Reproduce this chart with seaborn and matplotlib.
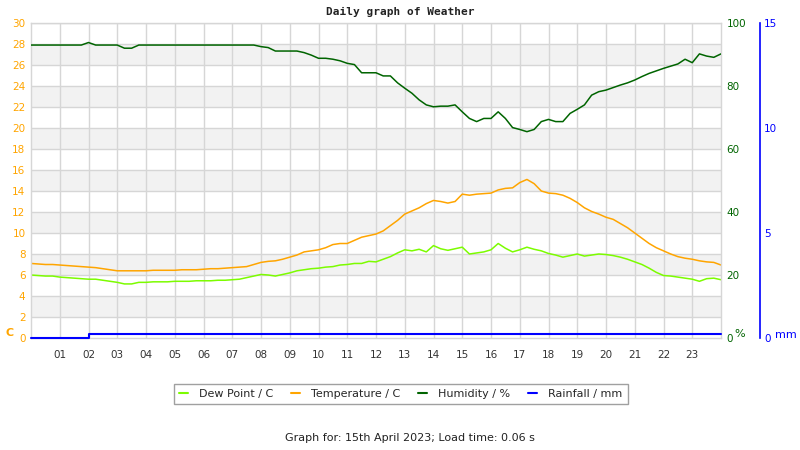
import numpy as np
import pandas as pd
import matplotlib
matplotlib.use('Agg')
import matplotlib.pyplot as plt
import seaborn as sns
from matplotlib.lines import Line2D

# readings every 15 minutes, 00:00 -> 24:00
hours = np.arange(0, 24.01, 0.25)

temperature = [7.1, 7.05, 7.0, 7.0, 6.95, 6.9, 6.85, 6.8, 6.75, 6.7, 6.6, 6.5,
               6.4, 6.4, 6.4, 6.4, 6.4, 6.45, 6.45, 6.45, 6.45, 6.5, 6.5, 6.5,
               6.55, 6.6, 6.6, 6.65, 6.7, 6.75, 6.8, 7.0, 7.2, 7.3, 7.35, 7.5,
               7.7, 7.9, 8.2, 8.3, 8.4, 8.6, 8.9, 9.0, 9.0, 9.3, 9.6, 9.75,
               9.9, 10.2, 10.7, 11.2, 11.8, 12.1, 12.4, 12.8, 13.1, 13.0, 12.85, 13.0,
               13.7, 13.6, 13.7, 13.75, 13.8, 14.1, 14.25, 14.3, 14.8, 15.1, 14.7, 14.0,
               13.8, 13.75, 13.6, 13.3, 12.9, 12.4, 12.05, 11.8, 11.5, 11.3, 10.9, 10.5,
               10.0, 9.5, 9.0, 8.6, 8.3, 8.0, 7.75, 7.6, 7.5, 7.35, 7.25, 7.2, 6.95]

dew_point = [6.0, 5.95, 5.9, 5.9, 5.8, 5.75, 5.7, 5.65, 5.6, 5.6, 5.5, 5.4,
             5.3, 5.15, 5.15, 5.3, 5.3, 5.35, 5.35, 5.35, 5.4, 5.4, 5.4, 5.45,
             5.45, 5.45, 5.5, 5.5, 5.55, 5.6, 5.75, 5.9, 6.05, 6.0, 5.9, 6.05,
             6.2, 6.4, 6.5, 6.6, 6.65, 6.75, 6.8, 6.95, 7.0, 7.1, 7.1, 7.3,
             7.25, 7.5, 7.75, 8.1, 8.4, 8.3, 8.45, 8.2, 8.8, 8.5, 8.35, 8.5,
             8.65, 8.0, 8.1, 8.2, 8.4, 9.0, 8.55, 8.2, 8.4, 8.65, 8.45, 8.3,
             8.05, 7.9, 7.7, 7.85, 8.0, 7.8, 7.9, 8.0, 7.95, 7.85, 7.7, 7.5,
             7.25, 7.0, 6.65, 6.25, 5.95, 5.9, 5.8, 5.7, 5.6, 5.4, 5.65, 5.7, 5.55]

humidity = [93.0, 93.0, 93.0, 93.0, 93.0, 93.0, 93.0, 93.0,
            93.8, 93.0, 93.0, 93.0, 93.0, 92.0, 92.0, 93.0,
            93.0, 93.0, 93.0, 93.0, 93.0, 93.0, 93.0, 93.0,
            93.0, 93.0, 93.0, 93.0, 93.0, 93.0, 93.0, 93.0,
            92.5, 92.2, 91.1, 91.1, 91.1, 91.1, 90.6, 89.8,
            88.8, 88.8, 88.5, 88.0, 87.2, 86.8, 84.2, 84.2,
            84.2, 83.2, 83.2, 81.0, 79.3, 77.7, 75.6, 74.0,
            73.4, 73.6, 73.6, 74.0, 71.8, 69.7, 68.7, 69.7,
            69.7, 71.8, 69.7, 66.8, 66.2, 65.5, 66.2, 68.7,
            69.4, 68.7, 68.7, 71.3, 72.6, 74.0, 77.1, 78.2,
            78.7, 79.5, 80.3, 81.0, 81.9, 83.0, 84.0, 84.8,
            85.6, 86.3, 87.0, 88.5, 87.4, 90.2, 89.5, 89.1, 90.2]

rain_hours = [0, 2, 24]
rainfall = [0.0, 0.2, 0.2]

hour_labels = ['%02d' % h for h in range(1, 24)]

df = pd.DataFrame({'hour': hours, 'temp': temperature, 'dew': dew_point, 'hum': humidity})
rain_df = pd.DataFrame({'hour': rain_hours, 'rain': rainfall})

c_dew, c_temp, c_hum, c_rain = '#7cfc00', '#ffa500', '#006400', '#0000ff'
grid_c = '#d6d6d6'

sns.set_style('white')
plt.rcParams['font.family'] = ['DejaVu Sans']

fig = plt.figure(figsize=(8, 4.5), dpi=100)
ax = fig.add_axes([31 / 800, 1 - 338 / 450, 690 / 800, 315 / 450])

for y0 in range(2, 30, 4):
    ax.axhspan(y0, y0 + 2, color='#f2f2f2', lw=0, zorder=0)
for y in range(2, 31, 2):
    ax.axhline(y, color=grid_c, lw=1, zorder=0.5)
for h in range(1, 24):
    ax.axvline(h, color=grid_c, lw=1, zorder=0.5)

sns.lineplot(data=df, x='hour', y='dew', ax=ax, color=c_dew, lw=1.1,
             estimator=None, sort=False)
sns.lineplot(data=df, x='hour', y='temp', ax=ax, color=c_temp, lw=1.1,
             estimator=None, sort=False)
ax.set_xlim(0, 24)
ax.set_ylim(0, 30)
ax.set_yticks(range(0, 31, 2))
ax.set_xticks(range(1, 24))
ax.set_xticklabels(hour_labels)
ax.tick_params(axis='y', length=0, pad=4, labelsize=7.5, labelcolor=c_temp)
ax.tick_params(axis='x', length=0, pad=9, labelsize=7.5, labelcolor='#333333')
ax.set_xlabel('')
ax.set_ylabel('')
for s in ax.spines.values():
    s.set_color(grid_c)
    s.set_linewidth(1)

ax_h = ax.twinx()
sns.lineplot(data=df, x='hour', y='hum', ax=ax_h, color=c_hum, lw=1.1,
             estimator=None, sort=False)
ax_h.set_ylim(0, 100)
ax_h.set_yticks(range(0, 101, 20))
ax_h.tick_params(axis='y', length=0, pad=4, labelsize=7.5, labelcolor=c_hum)
ax_h.set_ylabel('')
for s in ax_h.spines.values():
    s.set_visible(False)

ax_r = ax.twinx()
sns.lineplot(data=rain_df, x='hour', y='rain', ax=ax_r, color=c_rain, lw=1.5,
             drawstyle='steps-post', estimator=None, sort=False, clip_on=False)
ax_r.set_ylim(0, 15)
ax_r.set_yticks([0, 5, 10, 15])
ax_r.spines['right'].set_position(('axes', (760 - 31) / 690))
for k, s in ax_r.spines.items():
    s.set_visible(k == 'right')
ax_r.spines['right'].set_color(c_rain)
ax_r.spines['right'].set_linewidth(1.2)
ax_r.tick_params(axis='y', length=0, pad=3, labelsize=7.5, labelcolor=c_rain)
ax_r.set_ylabel('')
ax.set_xlim(0, 24)

fig.text(5 / 800, 1 - 333 / 450, 'C', color=c_temp, fontsize=8, fontweight='bold', va='center')
fig.text(734 / 800, 1 - 334 / 450, '%', color=c_hum, fontsize=8, va='center')
fig.text(775 / 800, 1 - 335 / 450, 'mm', color=c_rain, fontsize=8, va='center')

fig.text(0.5, 1 - 12 / 450, 'Daily graph of Weather', ha='center', va='center',
         family='DejaVu Sans Mono', fontweight='bold', fontsize=8, color='#222222')

handles = [Line2D([], [], color=c, lw=1.5) for c in (c_dew, c_temp, c_hum, c_rain)]
leg = fig.legend(handles, ['Dew Point / C', 'Temperature / C', 'Humidity / %', 'Rainfall / mm'],
                 loc='center', bbox_to_anchor=(401 / 800, 1 - 394 / 450), ncol=4,
                 fontsize=8, frameon=True, fancybox=False, handlelength=0.8,
                 columnspacing=1.6, handletextpad=1.0, borderpad=0.45)
leg.get_frame().set_edgecolor('#888888')
leg.get_frame().set_linewidth(1)

fig.text(410 / 800, 1 - 438 / 450, 'Graph for: 15th April 2023; Load time: 0.06 s',
         ha='center', va='center', fontsize=8, color='#222222')

fig.savefig('out.png', dpi=100)
